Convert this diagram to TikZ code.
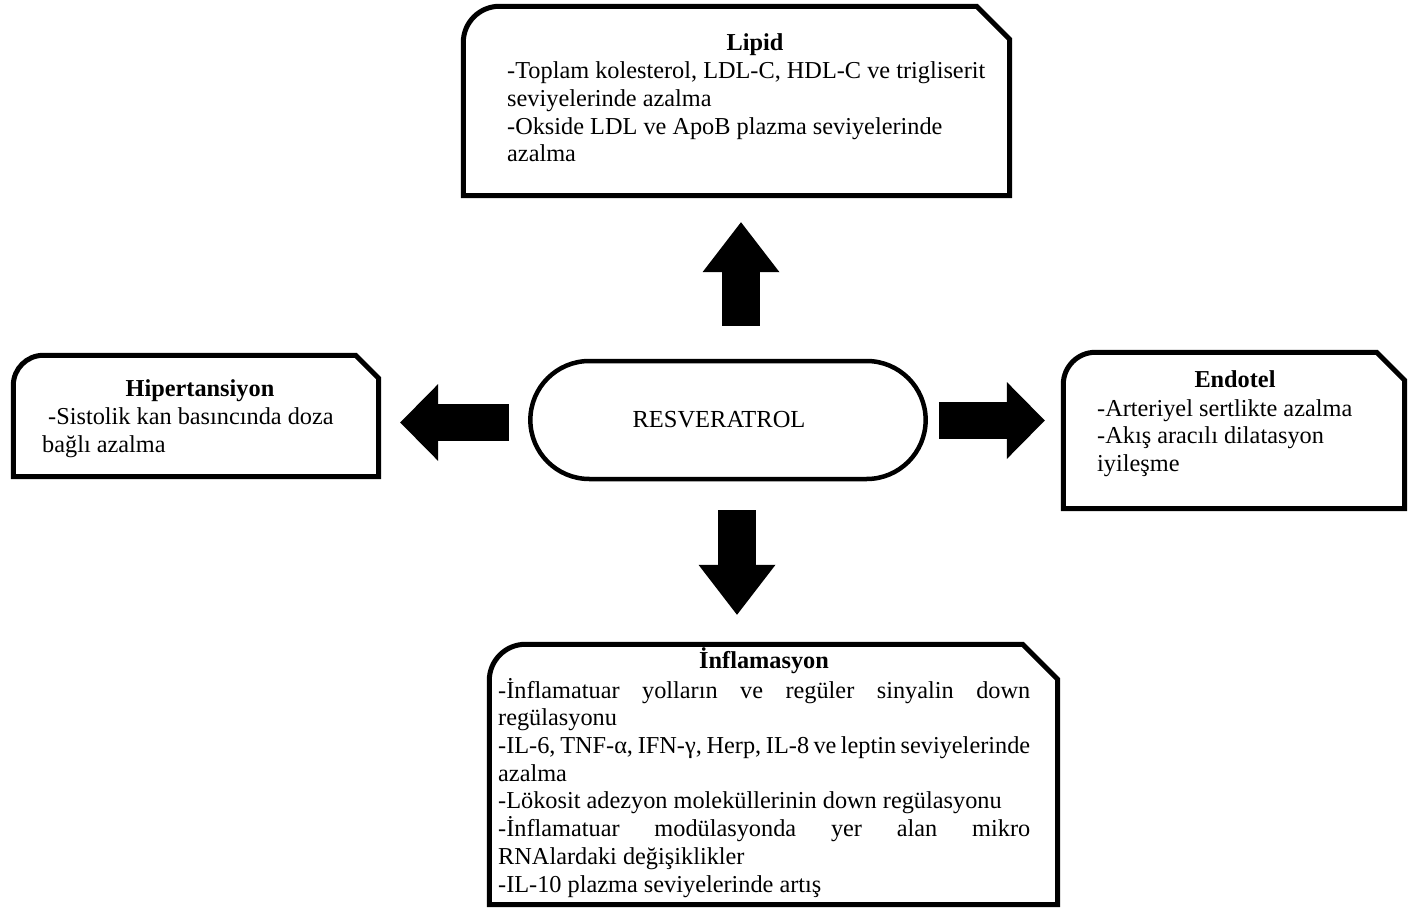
\documentclass[tikz,border=0pt]{standalone}
\usepackage{fontspec}
\setmainfont{Liberation Serif}
\usetikzlibrary{calc,shapes.misc,arrows.meta}

\tikzstyle{frame}=[draw,line width=5pt]
\tikzstyle{box}=[inner sep=0pt]
\tikzstyle{head}=[anchor=base,inner sep=0pt,font=\fontsize{24.3}{27.7}\selectfont\bfseries]
\tikzstyle{body}=[anchor=base west,inner sep=0pt,align=left,font=\fontsize{24.3}{27.7}\selectfont]
\tikzstyle{vblock}=[line width=38pt,-{Triangle[length=50pt 0 0,width=77pt 0 0,line width=0pt 0 0]}]
\tikzstyle{hblock}=[line width=37pt,-{Triangle[length=38pt 0 0,width=77pt 0 0,line width=0pt 0 0]}]

\newcommand\snipframe[3]{%
  \draw[frame] (#1.south west) -- ($(#1.north west)+(0,#2)$)
    .. controls ($(#1.north west)+(0,0.45*#2)$) and ($(#1.north west)+(0.45*#2,0)$) .. ($(#1.north west)+(#2,0)$)
    -- ($(#1.north east)-(#3,0)$) -- ($(#1.north east)+(0,#3)$) -- (#1.south east) -- cycle;}

\begin{document}
\begin{tikzpicture}[x=1pt,y=-1pt]
\useasboundingbox (0,0) rectangle (1408,909);

\node[rounded rectangle,draw,line width=4.5pt,minimum width=402pt,minimum height=118pt,
  font=\fontsize{24.5}{28}\selectfont] (res) at (728,420) {RESVERATROL\hspace*{18pt}};

\node[box,minimum width=546pt,minimum height=189pt] (lipid) at (736.5,101) {};
\snipframe{lipid}{36}{33}
\node[head] (lipidhead) at (755,51) {Lipid};
\node[body] (lipidtext) at (507,162) {-Toplam kolesterol, LDL-C, HDL-C ve trigliserit\\
seviyelerinde azalma\\
-Okside LDL ve ApoB plazma seviyelerinde\\
azalma};

\node[box,minimum width=365pt,minimum height=121pt] (hiper) at (196,416) {};
\snipframe{hiper}{30}{23}
\node[head] (hiperhead) at (200,396.5) {Hipertansiyon};
\node[body] (hipertext) at (42,452.5) {\hspace*{6pt}-Sistolik kan basıncında doza\\
bağlı azalma};

\node[box,minimum width=341pt,minimum height=156pt] (endo) at (1234,430.5) {};
\snipframe{endo}{32}{28}
\node[head] (endohead) at (1235,387.5) {Endotel};
\node[body] (endotext) at (1097,471.5) {-Arteriyel sertlikte azalma\\
-Akış aracılı dilatasyon\\
iyileşme};

\node[box,minimum width=568pt,minimum height=260pt] (inflam) at (773.5,774.5) {};
\snipframe{inflam}{36}{35}
\node[head] (inflamhead) at (764,668.5) {İnflamasyon};
\node[body] (inflamtext) at (498,892) {\makebox[532pt][s]{-İnflamatuar yolların ve regüler sinyalin down}\\
regülasyonu\\
\makebox[532pt][s]{-IL-6, TNF-α, IFN-γ, Herp, IL-8 ve leptin seviyelerinde}\\
azalma\\
-Lökosit adezyon moleküllerinin down regülasyonu\\
\makebox[532pt][s]{-İnflamatuar modülasyonda yer alan mikro}\\
RNAlardaki değişiklikler\\
-IL-10 plazma seviyelerinde artış};

\draw[vblock] ($(res.north)+(13,-33)$) -- ($(lipid.south)+(4.5,26.5)$);
\draw[hblock] ($(res.west)+(-19,2.5)$) -- ($(hiper.east)+(21.5,6.5)$);
\draw[hblock] ($(res.east)+(11,0.5)$) -- ($(endo.west)+(-18.5,-10)$);
\draw[vblock] ($(res.south)+(9,29)$) -- ($(inflam.north)+(-36.5,-29.5)$);
\end{tikzpicture}
\end{document}
